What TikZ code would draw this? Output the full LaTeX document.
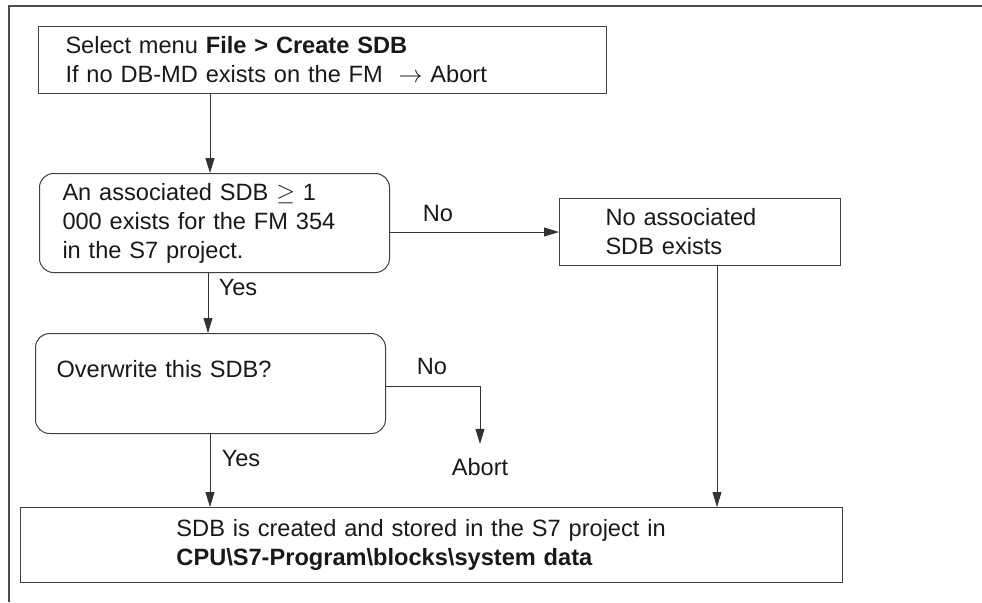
\documentclass[tikz,border=0pt]{standalone}
\usepackage{fontspec}
\setmainfont{Liberation Sans}
\usetikzlibrary{arrows.meta}

\tikzset{
  flowbox/.style={draw=black!75, line width=0.5pt, anchor=north west, align=left,
    inner ysep=0pt, text=black!90, font=\fontsize{11.8}{14.5}\selectfont},
  decbox/.style={flowbox, rounded corners=7pt},
  flowlabel/.style={text=black!90, font=\fontsize{11.8}{14.5}\selectfont},
  flowarrow/.style={draw=black!80, line width=0.5pt, -{Triangle[length=7.5pt,width=4.5pt]}}
}

\begin{document}
\begin{tikzpicture}[x=0.5pt, y=-0.5pt] % one unit = one pixel of the sketch
    \useasboundingbox (0,0) rectangle (982,602);

    % Frame
    \draw[black!70, line width=0.6pt] (982,6) -- (9,6) -- (9,602);

    % Boxes
    \node[flowbox, text width=257pt, inner xsep=13.5pt, minimum height=33.5pt] (create) at (38,26)
        {Select menu \textbf{File > Create SDB}\\If no DB-MD exists on the FM\ \ $\rightarrow$ Abort};
    \node[decbox, text width=152pt, inner xsep=11.5pt, minimum height=49.5pt] (exists) at (39,173)
        {An associated SDB $\geq$ 1\\000 exists for the FM 354\\in the S7 project.};
    \node[flowbox, text width=94.5pt, inner xsep=23pt, minimum height=33.5pt] (noexist) at (559,198)
        {No associated\\SDB exists};
    \node[decbox, text width=154pt, inner xsep=10.5pt, minimum height=50pt] (overwrite) at (35,333)
        {Overwrite this SDB?\\ ~};
    \node[flowbox, text width=255pt, inner xsep=78pt, minimum height=37.5pt] (stored) at (20,507)
        {SDB is created and stored in the S7 project in\\
         \textbf{CPU\textbackslash S7-Program\textbackslash blocks\textbackslash system data}};
    \node[flowlabel, inner ysep=7pt] (abort) at (480,467) {Abort};

    % Connectors
    \draw[flowarrow] (create.south -| 210,0) -- (exists.north -| 210,0);
    \draw[flowarrow] (exists.east |- noexist.west) -- (noexist.west);
    \draw[flowarrow] (exists.south -| 208,0) -- (overwrite.north -| 208,0);
    \draw[flowarrow] (overwrite.east |- 0,386) -- (480,386) -- (abort.north);
    \draw[flowarrow] (overwrite.south -| 210,0) -- (stored.north -| 210,0);
    \draw[flowarrow] (noexist.south -| 717,0) -- (stored.north -| 717,0);

    % Yes / No labels
    \node[flowlabel] (no1) at (438,213) {No};
    \node[flowlabel] (yes1) at (238,287) {Yes};
    \node[flowlabel] (no2) at (432,366) {No};
    \node[flowlabel] (yes2) at (241,458) {Yes};
\end{tikzpicture}
\end{document}
